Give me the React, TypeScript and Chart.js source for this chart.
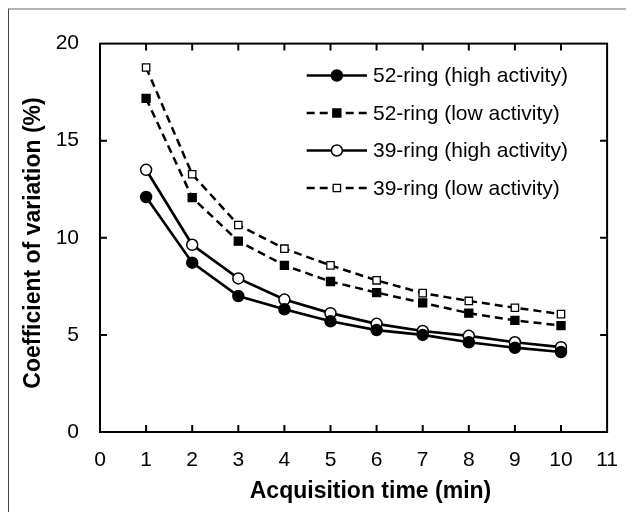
import React, { useEffect, useRef } from "react";
import { Chart, registerables } from "chart.js";

Chart.register(...registerables);

const times = [1, 2, 3, 4, 5, 6, 7, 8, 9, 10];
const ring52High = [12.1, 8.72, 7.0, 6.32, 5.7, 5.25, 5.0, 4.62, 4.34, 4.12];
const ring52Low = [17.18, 12.07, 9.83, 8.58, 7.75, 7.18, 6.65, 6.12, 5.75, 5.48];
const ring39High = [13.5, 9.64, 7.91, 6.82, 6.12, 5.57, 5.2, 4.95, 4.62, 4.37];
const ring39Low = [18.77, 13.27, 10.66, 9.44, 8.58, 7.81, 7.15, 6.75, 6.4, 6.07];
const seriesLabels = [
  "52-ring (high activity)",
  "52-ring (low activity)",
  "39-ring (high activity)",
  "39-ring (low activity)",
];
const xTickValues = [1, 2, 3, 4, 5, 6, 7, 8, 9, 10];
const yTickValues = [5, 10, 15];
const xTitle = "Acquisition time (min)";
const yTitle = "Coefficient of variation (%)";

const FONT = "'Liberation Sans', Arial, Helvetica, sans-serif";
const W = 625;
const H = 502;

type Marker = { style: "circle" | "rect"; filled: boolean; radius: number };

const markers: Marker[] = [
  { style: "circle", filled: true, radius: 5.5 },
  { style: "rect", filled: true, radius: 5.7 },
  { style: "circle", filled: false, radius: 5.5 },
  { style: "rect", filled: false, radius: 5.2 },
];
const dashed = [false, true, false, true];

function drawMarker(ctx: CanvasRenderingContext2D, m: Marker, x: number, y: number) {
  ctx.save();
  ctx.setLineDash([]);
  ctx.fillStyle = m.filled ? "#000" : "#fff";
  ctx.strokeStyle = "#000";
  ctx.lineWidth = m.style === "circle" ? 1.5 : 1.3;
  ctx.beginPath();
  if (m.style === "circle") {
    ctx.arc(x, y, m.radius, 0, Math.PI * 2);
  } else {
    const s = m.radius * Math.SQRT1_2;
    ctx.rect(x - s, y - s, 2 * s, 2 * s);
  }
  ctx.fill();
  ctx.stroke();
  ctx.restore();
}

const framePlugin = {
  id: "frameAndDecor",
  beforeDatasetsDraw(chart: any) {
    const { ctx, chartArea, scales } = chart;
    const { left, right, top, bottom } = chartArea;
    ctx.save();
    ctx.strokeStyle = "#000";
    ctx.lineWidth = 2;
    ctx.setLineDash([]);
    ctx.strokeRect(left, top, right - left, bottom - top);
    const tl = 7;
    ctx.beginPath();
    xTickValues.forEach((v) => {
      const x = scales.x.getPixelForValue(v);
      ctx.moveTo(x, bottom);
      ctx.lineTo(x, bottom - tl);
      ctx.moveTo(x, top);
      ctx.lineTo(x, top + tl);
    });
    yTickValues.forEach((v) => {
      const y = scales.y.getPixelForValue(v);
      ctx.moveTo(left, y);
      ctx.lineTo(left + tl, y);
      ctx.moveTo(right, y);
      ctx.lineTo(right - tl, y);
    });
    ctx.stroke();
    ctx.restore();
  },
  afterDraw(chart: any) {
    const { ctx } = chart;
    ctx.save();
    // axis titles
    ctx.fillStyle = "#000";
    ctx.font = `bold 23px ${FONT}`;
    ctx.textAlign = "center";
    ctx.textBaseline = "middle";
    ctx.fillText(xTitle, 361.5, 482);
    ctx.save();
    ctx.translate(24.5, 233);
    ctx.rotate(-Math.PI / 2);
    ctx.fillText(yTitle, 0, 0);
    ctx.restore();

    // legend
    const rows = [65.5, 103, 140.5, 178];
    const x0 = 297.7;
    const x1 = 358;
    const xm = (x0 + x1) / 2;
    ctx.font = `21px ${FONT}`;
    ctx.textAlign = "left";
    ctx.textBaseline = "middle";
    seriesLabels.forEach((label, i) => {
      const y = rows[i];
      ctx.save();
      ctx.strokeStyle = "#000";
      ctx.lineWidth = dashed[i] ? 2.5 : 2.7;
      ctx.setLineDash(dashed[i] ? [8, 5] : []);
      ctx.beginPath();
      ctx.moveTo(x0, y);
      ctx.lineTo(x1, y);
      ctx.stroke();
      ctx.restore();
      drawMarker(ctx, markers[i], xm, y);
      ctx.fillStyle = "#000";
      ctx.fillText(label, 364, y + 1);
    });
    ctx.restore();
  },
};

export default function App() {
  const ref = useRef<HTMLCanvasElement | null>(null);

  useEffect(() => {
    if (!ref.current) return;
    const series = [ring52High, ring52Low, ring39High, ring39Low];
    const datasets = series.map((vals, i) => ({
      label: seriesLabels[i],
      data: times.map((t, j) => ({ x: t, y: vals[j] })),
      borderColor: "#000",
      borderWidth: dashed[i] ? 2.5 : 2.7,
      borderDash: dashed[i] ? [8, 5] : [],
      pointStyle: markers[i].style,
      pointRadius: markers[i].radius,
      pointBackgroundColor: markers[i].filled ? "#000" : "#fff",
      pointBorderColor: "#000",
      pointBorderWidth: markers[i].style === "circle" ? 1.5 : 1.3,
      tension: 0,
      fill: false,
    }));
    const chart = new Chart(ref.current, {
      type: "line",
      data: { datasets },
      plugins: [framePlugin],
      options: {
        responsive: false,
        animation: false,
        devicePixelRatio: 1,
        layout: { padding: { top: 22, right: 15, left: 0, bottom: 0 } },
        plugins: {
          legend: { display: false },
          tooltip: { enabled: false },
        },
        scales: {
          x: {
            type: "linear",
            min: 0,
            max: 11,
            grid: { display: false, drawTicks: false },
            border: { display: false },
            ticks: {
              stepSize: 1,
              color: "#000",
              padding: 16,
              maxRotation: 0,
              autoSkip: false,
              font: { family: FONT, size: 21 },
            },
            afterFit: (s: any) => {
              s.height = 80;
            },
          },
          y: {
            type: "linear",
            min: 0,
            max: 20,
            grid: { display: false, drawTicks: false },
            border: { display: false },
            ticks: {
              stepSize: 5,
              color: "#000",
              padding: 21,
              font: { family: FONT, size: 21 },
            },
            afterFit: (s: any) => {
              s.width = 91;
            },
          },
        },
      } as any,
    });
    return () => chart.destroy();
  }, []);

  return (
    <div
      style={{
        width: W,
        height: H,
        borderTop: "2px solid #b4b4b4",
        borderLeft: "1px solid #444",
        background: "#fff",
      }}
    >
      <canvas ref={ref} width={W} height={H} style={{ display: "block", width: W, height: H }} />
    </div>
  );
}
